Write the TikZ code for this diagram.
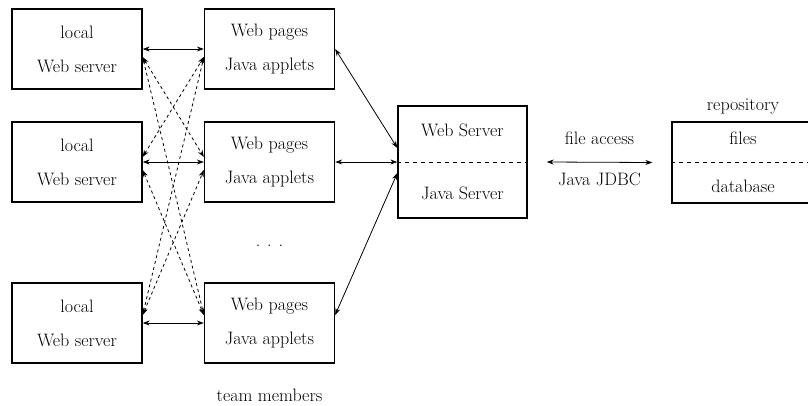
\documentclass[tikz,border=0pt]{standalone}
\usepackage{tikz}
\usetikzlibrary{arrows.meta}
\tikzstyle{machine}=[rectangle,draw=black,line width=1.3pt,minimum width=130pt,minimum height=80pt,align=center,font=\fontsize{18}{34}\selectfont]
\tikzstyle{link}=[{Stealth[length=7pt,width=5pt]}-{Stealth[length=7pt,width=5pt]},line width=0.8pt]
\tikzstyle{split}=[line width=0.8pt,dash pattern=on 4pt off 4pt]

\begin{document}
\begin{tikzpicture}[x=1pt,y=-1pt,inner sep=0pt,font=\fontsize{18}{22}\selectfont]
      \path [use as bounding box,clip] (0,0) rectangle (808,405);
      \node [machine] (local1) at (77,49) {local\\Web server};
      \node [machine] (local2) [below of=local1, node distance=113pt] {local\\Web server};
      \node [machine] (local3) [below of=local2, node distance=161pt] {local\\Web server};
      \node [machine] (pages1) [right of=local1, node distance=192.5pt] {Web pages\\Java applets};
      \node [machine] (pages2) [right of=local2, node distance=192.5pt] {Web pages\\Java applets};
      \node [machine] (pages3) [right of=local3, node distance=192.5pt] {Web pages\\Java applets};
      \node (dots) [below of=pages2, node distance=84pt] {.\hspace{7pt}.\hspace{7pt}.};
      \node (team) [below of=pages3, node distance=72pt] {team members};

      \draw [link] (local1) -- (pages1);
      \draw [link] (local2) -- (pages2);
      \draw [link] (local3) -- (pages3);
      \draw [link,dashed] ([yshift=-8pt]local1.east) -- ([yshift=5pt]pages2.west);
      \draw [link,dashed] ([yshift=-8pt]local1.east) -- ([yshift=8pt]pages3.west);
      \draw [link,dashed] ([yshift=5pt]local2.east) -- ([yshift=-8pt]pages1.west);
      \draw [link,dashed] ([yshift=-8pt]local2.east) -- ([yshift=8pt]pages3.west);
      \draw [link,dashed] ([yshift=8pt]local3.east) -- ([yshift=-8pt]pages1.west);
      \draw [link,dashed] ([yshift=8pt]local3.east) -- ([yshift=-8pt]pages2.west);

      \node [machine,minimum width=129pt,minimum height=112pt,font=\fontsize{18}{63}\selectfont] (server) at (462.5,162) {Web Server\\Java Server};
      \draw [split] (server.west) -- (server.east);
      \draw [link] (pages1.east) -- ([yshift=14pt]server.west);
      \draw [link] (pages2) -- (server);
      \draw [link] ([yshift=8pt]pages3.east) -- ([yshift=-11pt]server.west);

      \node [machine,minimum width=142pt,minimum height=81pt,font=\fontsize{18}{48}\selectfont] (repository) at (743,162.5) {files\\database};
      \draw [split] (repository.west) -- (repository.east);
      \node (repolabel) [above of=repository, node distance=56pt] {repository};
      \draw [link] ([xshift=19pt]server.east) -- node[above=17pt]{file access} node[below=10pt]{Java JDBC} ([xshift=-19pt]repository.west);
\end{tikzpicture}
\end{document}
